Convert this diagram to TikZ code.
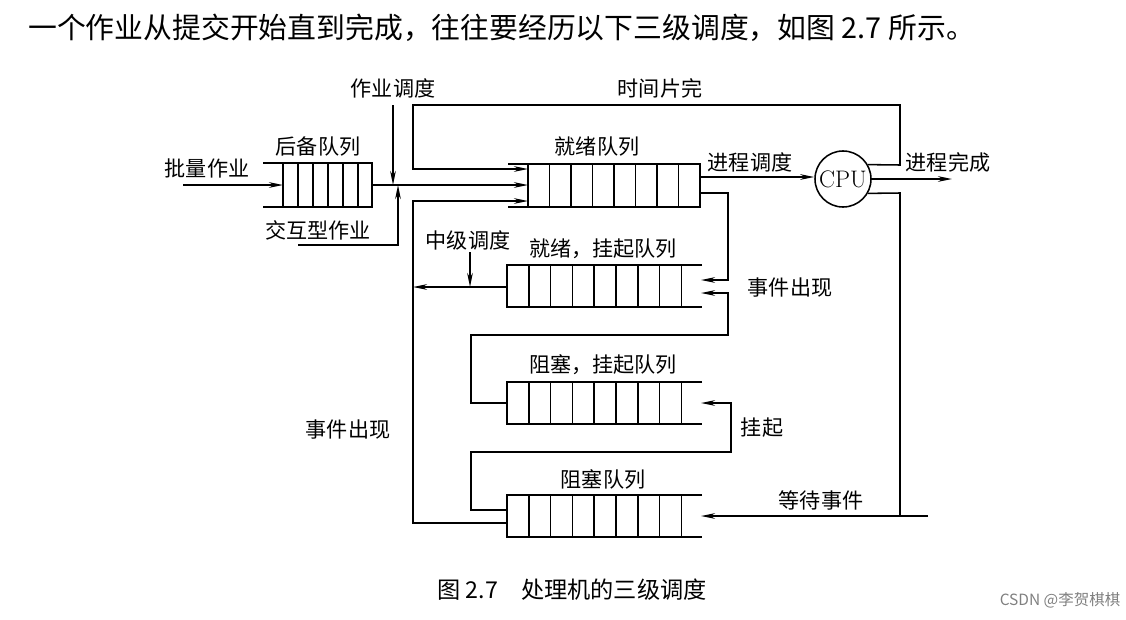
\documentclass[tikz,border=0pt]{standalone}
\usepackage{fontspec}
\newfontfamily\cjk{Noto Sans CJK SC}
\usetikzlibrary{arrows.meta}
\tikzset{
  lbl/.style={font=\cjk\fontsize{15pt}{15pt}\selectfont, inner sep=0pt},
  wire/.style={line width=1.1pt},
  arr/.style={wire, -{Stealth[length=10pt,width=4pt]}},
}
\begin{document}
\begin{tikzpicture}[x=0.025cm, y=-0.025cm]
    \useasboundingbox (0,0) rectangle (1126,619);
    % Reference coordinates
    \coordinate (bqL) at (283,185);
    \coordinate (bqR) at (372,185);
    \coordinate (rqL) at (528,185);
    \coordinate (rqUp) at (528,169);
    \coordinate (rqLow) at (528,201);
    \coordinate (rqOut) at (700,177);
    \coordinate (rqSide) at (700,193);
    \coordinate (rsL) at (507,287);
    \coordinate (rsA) at (701,280);
    \coordinate (rsB) at (701,293);
    \coordinate (bsL) at (507,403);
    \coordinate (bsR) at (701,403);
    \coordinate (bkL1) at (507,510);
    \coordinate (bkL2) at (507,523);
    \coordinate (bkR) at (701,516);
    \coordinate (batch) at (183,185);
    \coordinate (inter) at (298,245);
    \coordinate (jobtop) at (393,105);
    \coordinate (midtop) at (470,252);
    \coordinate (waitend) at (928,516);
    \coordinate (done) at (952,179);
    % Heading and caption
    \node[lbl, anchor=west, font=\cjk\fontsize{20.5pt}{21pt}\selectfont] (head) at (28,28) {一个作业从提交开始直到完成，往往要经历以下三级调度，如图 2.7 所示。};
    \node[lbl, font=\cjk\fontsize{16.5pt}{17pt}\selectfont] (cap) at (572,590) {图 2.7\quad 处理机的三级调度};
    \node[lbl, font=\cjk\fontsize{11pt}{11pt}\selectfont, text=gray] (mark) at (1060,600) {CSDN @李贺棋棋};
    % Queues
    \draw[wire] (263,163) -- (372,163) -- (372,207) -- (263,207);
    \foreach \x in {283,298,313,328,343,358} \draw[wire] (\x,163) -- (\x,207);
    \draw[wire] (508,164) -- (700,164) -- (700,207) -- (508,207);
    \foreach \i in {0,...,7} \draw[wire] (528+\i*21.5,164) -- (528+\i*21.5,207);
    \foreach \t in {265,382,495} {
      \draw[wire] (702,\t) -- (507,\t) -- (507,\t+42) -- (702,\t+42);
      \foreach \i in {1,...,8} \draw[wire] (507+\i*21.8,\t) -- (507+\i*21.8,\t+42);
    }
    % CPU
    \node[draw, circle, line width=1.1pt, minimum size=1.4cm, inner sep=0pt, font=\fontsize{17pt}{17pt}\selectfont] (cpu) at (843,179) {CPU};
    % Labels
    \node[lbl] (lbatch) at (207,168) {批量作业};
    \node[lbl] (lbq) at (318,147) {后备队列};
    \node[lbl] (linter) at (318,230) {交互型作业};
    \node[lbl] (ljob) at (393,88) {作业调度};
    \node[lbl] (lslice) at (660,88) {时间片完};
    \node[lbl] (lrq) at (597,147) {就绪队列};
    \node[lbl] (lproc) at (750,162) {进程调度};
    \node[lbl] (ldone) at (948,162) {进程完成};
    \node[lbl] (lmid) at (468,240) {中级调度};
    \node[lbl] (lrs) at (603,249) {就绪，挂起队列};
    \node[lbl] (lev1) at (790,288) {事件出现};
    \node[lbl] (lbs) at (603,365) {阻塞，挂起队列};
    \node[lbl] (lsus) at (762,428) {挂起};
    \node[lbl] (lev2) at (348,430) {事件出现};
    \node[lbl] (lbk) at (603,479) {阻塞队列};
    \node[lbl] (lwait) at (821,500) {等待事件};
    % Connectors
    \draw[arr] (batch) -- (bqL);
    \draw[arr] (bqR) -- (rqL);
    \draw[arr] (jobtop) -- (393,185);
    \draw[arr] (inter) -| (398,185);
    \draw[arr] (rqOut) -- (cpu.west |- rqOut);
    \draw[arr] (cpu.east) -- (done);
    \draw[arr] (cpu.30) -- (900,165) -- (900,105) -- (413,105) |- (rqUp);
    \draw[arr] (bkL2) -- (413,523) |- (rqLow);
    \draw[arr] (rsL) -- (413,287);
    \draw[arr] (midtop) -- (470,287);
    \draw[arr] (rqSide) -- (728,193) |- (rsA);
    \draw[arr] (bsL) -- (471,403) -- (471,335) -- (728,335) |- (rsB);
    \draw[arr] (bkL1) -- (471,510) -- (471,452) -- (731,452) |- (bsR);
    \draw[arr] (cpu.-30) -- (900,193) -- (900,516) -- (bkR);
    \draw[wire] (waitend) -- (900,516);
\end{tikzpicture}
\end{document}
